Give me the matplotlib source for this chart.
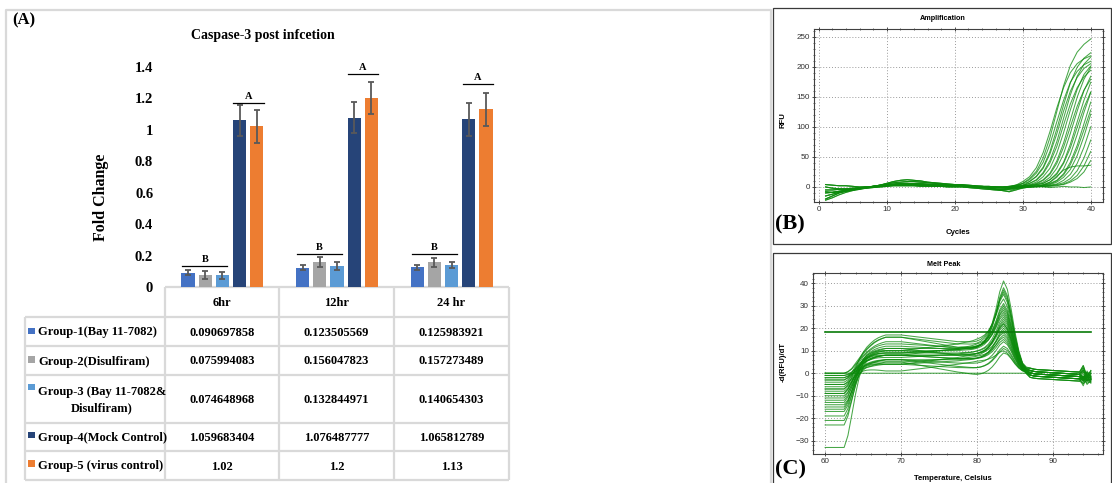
import matplotlib
matplotlib.use("Agg")
import matplotlib.pyplot as plt
import numpy as np
from matplotlib.patches import Rectangle
from matplotlib.ticker import MultipleLocator

W, H = 1112, 483

# ---------------- (A) caspase-3 fold change ----------------
time_points = ["6hr", "12hr", "24 hr"]
group_names = [
    "Group-1(Bay 11-7082)",
    "Group-2(Disulfiram)",
    "Group-3 (Bay 11-7082&\nDisulfiram)",
    "Group-4(Mock Control)",
    "Group-5 (virus control)",
]
group_colors = ["#4472C4", "#A5A5A5", "#5B9BD5", "#264478", "#ED7D31"]

fold_g1 = [0.090697858, 0.123505569, 0.125983921]
fold_g2 = [0.075994083, 0.156047823, 0.157273489]
fold_g3 = [0.074648968, 0.132844971, 0.140654303]
fold_g4 = [1.059683404, 1.076487777, 1.065812789]
fold_g5 = [1.02, 1.2, 1.13]

err_g1 = [0.015, 0.015, 0.015]
err_g2 = [0.027, 0.032, 0.030]
err_g3 = [0.023, 0.023, 0.020]
err_g4 = [0.100, 0.100, 0.105]
err_g5 = [0.105, 0.100, 0.105]

# significance groups drawn over the bars
sig_a_level = [1.171, 1.355, 1.292]
sig_b_level = [0.133, 0.210, 0.210]

# ---------------- (B) amplification ----------------
# baseline drift, cycles 1..40
amp_baseline = [
    [-20, -15, -10, -7, -5, -3, -1, 0, 1, 2, 3, 4, 4, 4, 3, 3, 2, 2, 2, 1,
     1, 1, 0, 0, -1, -1, -2, -2, -1, 0, 0, 0, 0, 0, 0, 0, 0, 0, 0, 0],
    [-15, -12, -9, -7, -5, -3, -1, 1, 2, 4, 5, 6, 6, 5, 5, 4, 3, 3, 2, 2,
     1, 1, 0, -1, -2, -3, -4, -3, -2, -1, 0, 0, 0, 0, 0, 0, 0, 0, 0, 0],
    [-10, -9, -7, -5, -4, -2, 0, 1, 3, 5, 7, 8, 9, 9, 8, 7, 6, 5, 4, 3,
     3, 2, 1, 0, 0, -1, -1, 0, 0, 0, 0, 0, 0, 0, 0, 0, 0, 0, 0, 0],
    [-5, -5, -4, -4, -3, -2, -1, 0, 1, 2, 3, 3, 3, 3, 3, 2, 2, 2, 1, 1,
     1, 0, 0, -1, -2, -4, -6, -8, -5, -2, 0, 0, 0, 0, 0, 0, 0, 0, 0, 0],
    [0, -2, -3, -3, -2, -1, 0, 1, 3, 6, 9, 11, 12, 11, 10, 8, 7, 6, 5, 4,
     4, 3, 2, 1, 1, 0, 0, 0, 1, 1, 1, 1, 1, 1, 1, 1, 1, 1, 1, 1],
    [4, 3, 2, 2, 1, 0, 0, 1, 2, 3, 4, 5, 5, 5, 4, 4, 3, 3, 3, 2,
     2, 2, 1, 1, 0, 0, -1, -1, 0, 0, 0, 0, 0, 0, 0, 0, 0, 0, 0, 0],
    [-8, -9, -8, -6, -4, -3, -2, -1, 0, 1, 2, 2, 2, 2, 1, 1, 1, 1, 0, 0,
     0, -1, -2, -3, -4, -5, -5, -4, -3, -1, 0, 0, 0, 0, 0, 0, 0, 0, 0, 0],
    [-22, -18, -13, -9, -6, -4, -2, 0, 1, 3, 4, 5, 6, 6, 6, 5, 4, 4, 3, 3,
     2, 2, 1, 1, 0, 0, 0, 0, 0, 0, 0, 0, 0, 0, 0, 0, 0, 0, 0, 0],
]
# fluorescence gain per well, cycles 28..40
amp_rise = [
    [2, 4, 9, 17, 32, 57, 92, 131, 165, 190, 205, 213, 218],
    [2, 3, 7, 14, 26, 48, 82, 125, 168, 202, 224, 237, 246],
    [1, 3, 6, 12, 23, 41, 71, 108, 144, 174, 192, 203, 209],
    [1, 2, 4, 9, 18, 33, 59, 96, 136, 173, 199, 214, 223],
    [1, 2, 4, 8, 16, 30, 54, 87, 125, 158, 181, 196, 204],
    [1, 2, 3, 6, 12, 24, 44, 75, 114, 153, 184, 204, 216],
    [1, 1, 3, 6, 11, 22, 40, 67, 103, 138, 165, 183, 194],
    [1, 1, 2, 4, 8, 17, 31, 56, 90, 128, 162, 187, 201],
    [0, 1, 2, 3, 6, 12, 23, 43, 73, 111, 149, 179, 199],
    [0, 1, 1, 3, 5, 11, 21, 39, 66, 100, 134, 161, 179],
    [0, 1, 1, 2, 4, 8, 16, 31, 55, 89, 126, 160, 184],
    [0, 0, 1, 1, 3, 6, 12, 23, 41, 71, 108, 144, 174],
    [0, 0, 1, 1, 3, 5, 11, 20, 38, 64, 98, 131, 157],
    [0, 0, 1, 1, 2, 4, 8, 16, 30, 54, 87, 124, 157],
    [0, 0, 0, 1, 1, 3, 6, 11, 22, 41, 69, 105, 141],
    [0, 0, 0, 1, 1, 3, 5, 10, 20, 37, 63, 95, 128],
    [0, 0, 0, 0, 1, 2, 4, 8, 16, 29, 52, 84, 121],
    [0, 0, 0, 0, 1, 1, 3, 5, 11, 21, 39, 66, 100],
    [0, 0, 0, 0, 0, 1, 2, 4, 7, 14, 27, 48, 78],
    [0, 0, 0, 0, 0, 1, 1, 2, 5, 10, 19, 35, 59],
    [0, 0, 0, 0, 0, 0, 1, 2, 3, 7, 13, 24, 43],
    [0, 0, 0, 0, 1, 3, 8, 18, 28, 33, 35, 35, 36],
    [0, 0, -1, 0, 1, 0, -1, 0, 1, 0, 0, -1, 0],
]

# ---------------- (C) melt peak ----------------
# component profiles on the 60..95 C grid (0.5 C step)
melt_dip_shape = [1, 1, 1, 1, 1, 1, 0.85, 0.6, 0.35, 0.15, 0.05] + [0] * 60
melt_plateau_shape = (
    [0] * 6
    + [0.05, 0.15, 0.3, 0.45, 0.6, 0.72, 0.82, 0.9, 0.95, 0.98]
    + [1] * 27
    + [0.98, 0.95, 0.9, 0.8, 0.68, 0.55, 0.4, 0.27, 0.16, 0.08, 0.03]
    + [0] * 17
)
melt_tilt_shape = (
    [0] * 8
    + [0.1, 0.2, 0.3, 0.4, 0.5, 0.62, 0.75, 0.88, 1, 1, 1, 1, 1,
       0.9, 0.8, 0.7, 0.6, 0.5, 0.4, 0.3, 0.2, 0.1, 0,
       -0.1, -0.2, -0.3, -0.4, -0.5, -0.6, -0.7, -0.8, -0.9, -1, -1,
       -0.95, -0.9, -0.8, -0.7, -0.6, -0.5, -0.4, -0.3, -0.2, -0.1, -0.05]
    + [0] * 18
)
melt_peak_shape = (
    [0] * 36
    + [0.01, 0.015, 0.02, 0.03, 0.05, 0.08, 0.13, 0.22, 0.36, 0.56, 0.82,
       1.0, 0.93, 0.72, 0.46, 0.25, 0.11, 0.04, 0.01]
    + [0] * 16
)
melt_post_shape = [0] * 53 + [0.5] + [1] * 17
melt_tail = [0] * 55 + [-0.2, -0.4, -0.5, -0.6, -0.7, -0.8, -0.9, -1.0,
                        -1.1, -1.2, -1.3, -1.4, -1.5, -1.6, -1.8, -2.0]
melt_wiggle_shape = [0] * 68 + [1, -0.6, 0.4]

# per-well levels: start dip, plateau, tilt, peak maximum, post-peak offset, end wiggle
melt_dip = [0, -1, -2, -3, -4, -5, -6, -7, -8, -9, -10, -11, -12, -13, -14,
            -15, -16, -17, -19, -21, -23, -33, 0, -1, -2, -3, -5, -7, -9, 0]
melt_plateau = [12, 8, 5, 13, 10, 3, 9, 15, 6, 11, 4, 12, 7, 10, 2,
                8, 11, 5, 9, 6, 10, 7, 14, 3, 10, 8, 12, 6, 9, 0]
melt_tilt = [2, -1, 1, 3, 0, -2, 1, 2, -1, 0, 2, -2, 1, -1, 3,
             0, 1, -1, 2, 0, -2, 1, 2, 1, -1, 0, 1, -2, 0, 0]
melt_peak = [38, 25, 14, 41, 29, 10, 22, 35, 16, 30, 12, 33, 19, 27, 9,
             21, 37, 15, 24, 17, 28, 20, 36, 11, 26, 23, 31, 18, 22, 0]
melt_post = [1, -1, 0, 2, -2, 1, 0, -1, 2, 0, -1, 1, -2, 0, 1,
             -1, 2, 0, -1, 1, 0, -2, 1, 0, 2, -1, 0, 1, -1, 0]
melt_wiggle = [2, -3, 1, 3, -1, 2, -2, 0, 3, -1, 1, -2, 2, 0, -3,
               1, 2, -1, 0, 3, -2, 1, -1, 2, 0, -2, 3, -1, 1, 0]
melt_threshold = 18.5

SERIF = "Liberation Serif"
SANS = "Liberation Sans"
GREEN = "#0b8a0b"
plt.rcParams["font.family"] = SERIF


def box(x0, y0, x1, y1):
    # pixel box (origin top-left) -> figure fraction rect
    return [x0 / W, 1 - y1 / H, (x1 - x0) / W, (y1 - y0) / H]


def style_instrument(ax, xmaj, xmin, ymaj, ymin):
    ax.xaxis.set_major_locator(MultipleLocator(xmaj))
    ax.xaxis.set_minor_locator(MultipleLocator(xmin))
    ax.yaxis.set_major_locator(MultipleLocator(ymaj))
    ax.yaxis.set_minor_locator(MultipleLocator(ymin))
    ax.grid(which="major", color="#9a9a9a", ls=(0, (1, 2)), lw=0.7)
    ax.tick_params(which="both", direction="inout", top=True, right=True,
                   labelsize=5.8, pad=1.5, colors="#303030",
                   labelfontfamily=SANS)
    ax.tick_params(which="major", length=3, width=0.6)
    ax.tick_params(which="minor", length=2, width=0.5)
    for s in ax.spines.values():
        s.set_color("#404040")
        s.set_linewidth(0.8)


fig = plt.figure(figsize=(W / 100, H / 100), dpi=100)

page = fig.add_axes([0, 0, 1, 1], zorder=0)
page.set_xlim(0, W)
page.set_ylim(H, 0)
page.axis("off")

# panel frames
page.plot([6, 6, 771, 771], [H + 5, 10, 10, H + 5], color="#d9d9d9", lw=1.6)
page.add_patch(Rectangle((773, 8), 337.5, 236, fill=False, ec="#3a3a3a", lw=0.9))
page.add_patch(Rectangle((773, 253), 337.5, 250, fill=False, ec="#3a3a3a", lw=0.9))

page.text(12, 20, "(A)", fontsize=12, fontweight="bold", va="center")
page.text(775, 224, "(B)", fontsize=16, fontweight="bold", va="center")
page.text(775, 469, "(C)", fontsize=16, fontweight="bold", va="center")

# ---- bar chart ----
ax = fig.add_axes(box(165, 66.7, 509, 287), zorder=1)
ax.patch.set_alpha(0)
x = np.arange(len(time_points))
offsets = [-0.3, -0.15, 0.0, 0.15, 0.3]
folds = [fold_g1, fold_g2, fold_g3, fold_g4, fold_g5]
errs = [err_g1, err_g2, err_g3, err_g4, err_g5]
for off, vals, err, col in zip(offsets, folds, errs, group_colors):
    ax.bar(x + off, vals, width=0.115, color=col, yerr=err,
           error_kw=dict(ecolor="#595959", elinewidth=1.3,
                         capsize=2.3, capthick=1.3))

for xi, ya, yb in zip(x, sig_a_level, sig_b_level):
    ax.plot([xi + 0.095, xi + 0.36], [ya, ya], color="black", lw=0.9,
            clip_on=False)
    ax.text(xi + 0.2275, ya + 0.012, "A", ha="center", va="bottom",
            fontsize=7.5, fontweight="bold", clip_on=False)
    ax.plot([xi - 0.35, xi + 0.045], [yb, yb], color="black", lw=0.9)
    ax.text(xi - 0.1525, yb + 0.012, "B", ha="center", va="bottom",
            fontsize=7.5, fontweight="bold")

ax.set_xlim(-0.5, 2.5)
ax.set_ylim(0, 1.4)
ax.set_xticks([])
ax.set_yticks(np.arange(0, 1.41, 0.2))
ax.set_yticklabels(["0", "0.2", "0.4", "0.6", "0.8", "1", "1.2", "1.4"])
ax.tick_params(axis="y", length=0, pad=8.5, labelsize=10.5)
for lab in ax.get_yticklabels():
    lab.set_fontweight("bold")
for s in ax.spines.values():
    s.set_visible(False)

page.text(263, 35, "Caspase-3 post infcetion", ha="center", va="center",
          fontsize=10, fontweight="bold")
page.text(101, 197, "Fold Change", rotation=90, ha="center", va="center",
          fontsize=11.5, fontweight="bold")

# ---- data table under the bars ----
cols = [25, 165, 279, 394, 509]
rows = [287, 317, 346, 375, 423, 451, 480]
grid_kw = dict(color="#d9d9d9", lw=1.6, solid_capstyle="butt")
page.plot([cols[1], cols[-1]], [rows[0], rows[0]], **grid_kw)
for ry in rows[1:]:
    page.plot([cols[0], cols[-1]], [ry, ry], **grid_kw)
page.plot([cols[0], cols[0]], [rows[1], rows[-1]], **grid_kw)
for cx in cols[1:]:
    page.plot([cx, cx], [rows[0], rows[-1]], **grid_kw)

col_mid = [(a + b) / 2 for a, b in zip(cols[1:-1], cols[2:])]
for cx, tp in zip(col_mid, time_points):
    page.text(cx, (rows[0] + rows[1]) / 2 + 1, tp, ha="center", va="center",
              fontsize=9, fontweight="bold")

swatch_y = [331, 359.5, 387, 435, 463.5]
for r, (name, col, vals, sy) in enumerate(zip(group_names, group_colors,
                                              folds, swatch_y)):
    cy = (rows[r + 1] + rows[r + 2]) / 2 + 1
    page.add_patch(Rectangle((28.3, sy - 3.3), 6.6, 6.6, color=col, lw=0))
    page.text(38, cy, name, ha="left", va="center", fontsize=9,
              fontweight="bold", multialignment="center", linespacing=1.55)
    for cx, v in zip(col_mid, vals):
        page.text(cx, cy, str(v), ha="center", va="center", fontsize=9,
                  fontweight="bold")

# ---- amplification plot ----
axb = fig.add_axes(box(814, 29.3, 1103, 201.7), zorder=1)
cycles = np.arange(1, 41)
for i, rise in enumerate(amp_rise):
    rfu = np.array(amp_baseline[i % len(amp_baseline)], dtype=float)
    rfu[27:] += rise
    axb.plot(cycles, rfu, color=GREEN, lw=0.75, alpha=0.75)
axb.set_xlim(-0.7, 41.8)
axb.set_ylim(-24.5, 262)
style_instrument(axb, 10, 2, 50, 10)
page.text(943, 19, "Amplification", ha="center", va="center", fontsize=5.2,
          fontweight="bold", family=SANS)
page.text(958, 233, "Cycles", ha="center", va="center", fontsize=5.6,
          fontweight="bold", family=SANS)
page.text(783, 120, "RFU", ha="center", va="center", rotation=90,
          fontsize=5.6, fontweight="bold", family=SANS)

# ---- melt peak plot ----
axc = fig.add_axes(box(813, 273.3, 1103, 454), zorder=1)
temps = np.arange(60, 95.01, 0.5)
dip_s = np.array(melt_dip_shape, dtype=float)
plat_s = np.array(melt_plateau_shape, dtype=float)
tilt_s = np.array(melt_tilt_shape, dtype=float)
peak_s = np.array(melt_peak_shape, dtype=float)
post_s = np.array(melt_post_shape, dtype=float)
wig_s = np.array(melt_wiggle_shape, dtype=float)
tail = np.array(melt_tail, dtype=float)
pk = int(np.argmax(peak_s))
for d, p, t, top, po, wg in zip(melt_dip, melt_plateau, melt_tilt, melt_peak,
                                melt_post, melt_wiggle):
    body = d * dip_s + p * plat_s + t * tilt_s + po * post_s + wg * wig_s + tail
    curve = body + (top - body[pk]) * peak_s
    axc.plot(temps, curve, color=GREEN, lw=0.75, alpha=0.75)
axc.plot([60, 95], [melt_threshold, melt_threshold], color="#087a08", lw=1.2)
axc.set_xlim(58.4, 96.6)
axc.set_ylim(-35.9, 44.4)
style_instrument(axc, 10, 2, 10, 2)
page.text(944, 264, "Melt Peak", ha="center", va="center", fontsize=5.2,
          fontweight="bold", family=SANS)
page.text(953, 479, "Temperature, Celsius", ha="center", va="center",
          fontsize=5.6, fontweight="bold", family=SANS)
page.text(783.5, 362, "-d(RFU)/dT", ha="center", va="center", rotation=90,
          fontsize=5.6, fontweight="bold", family=SANS)

fig.savefig("out.png", dpi=100)
